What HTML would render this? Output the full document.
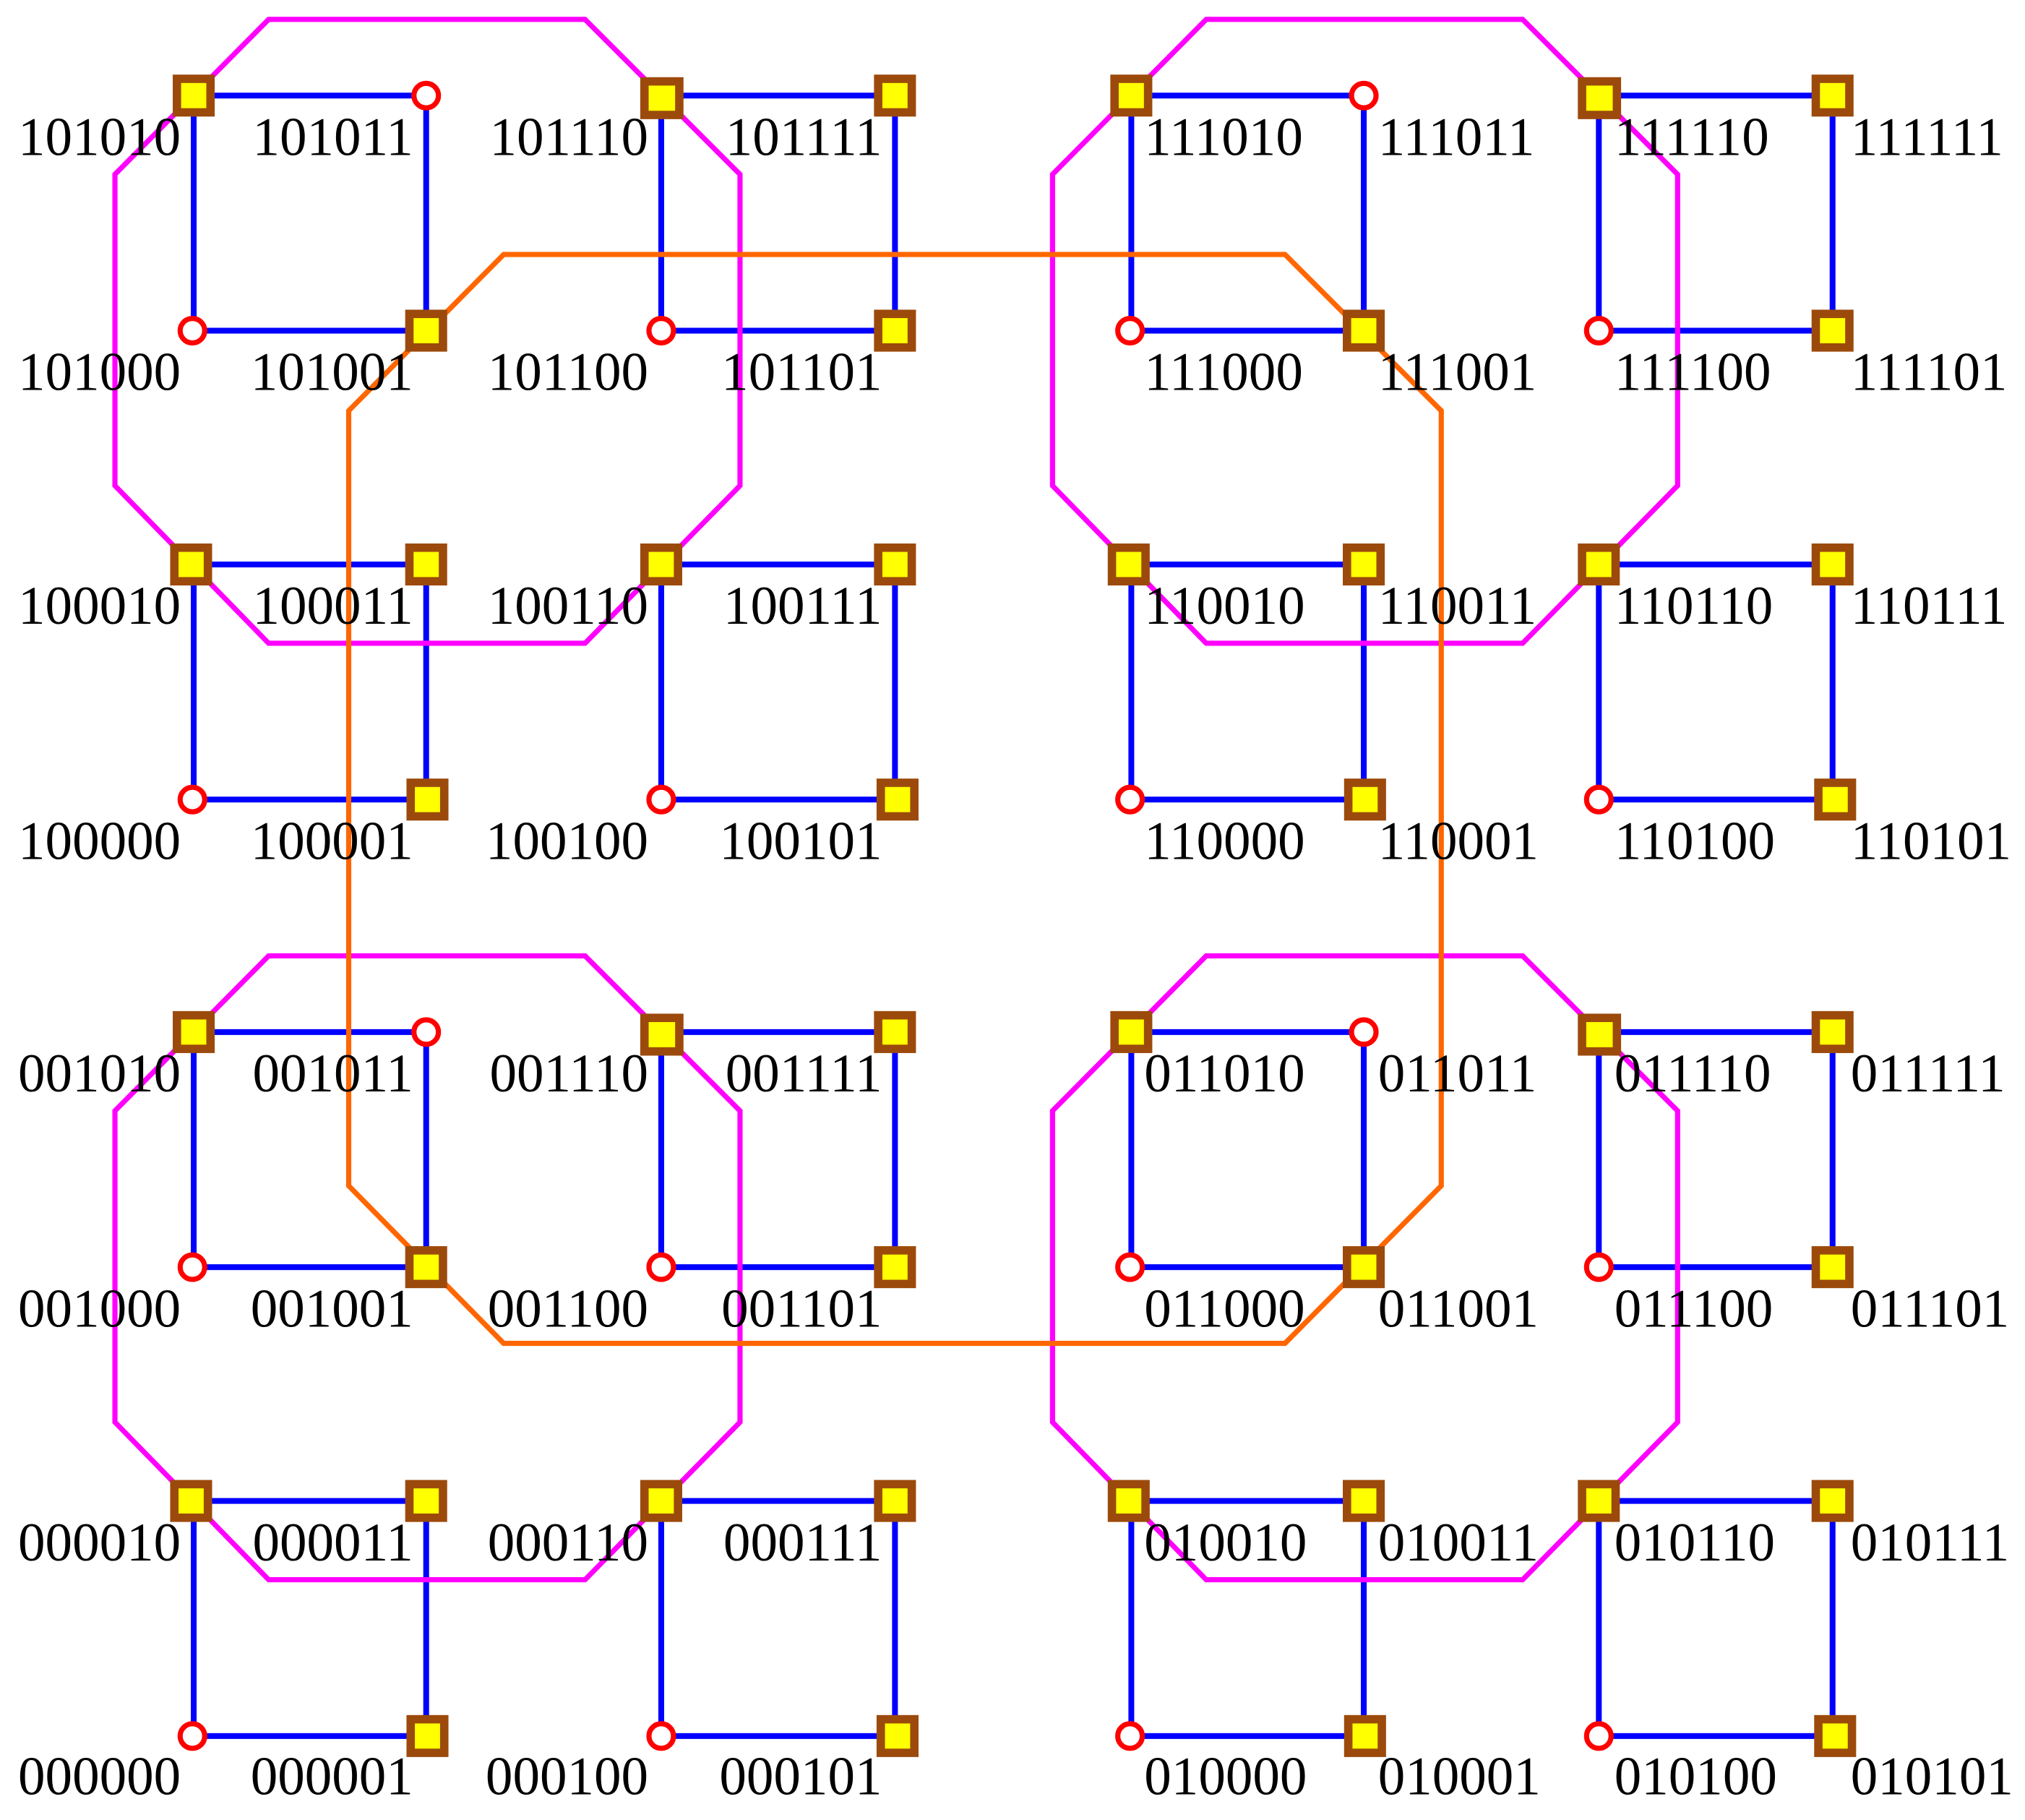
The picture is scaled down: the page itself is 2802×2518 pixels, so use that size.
<!DOCTYPE html>
<html><head><meta charset="utf-8"><style>html,body{margin:0;padding:0;background:#fff}svg{display:block}</style></head>
<body>
<svg width="2802" height="2518" viewBox="0 0 1568 1409" preserveAspectRatio="none" xmlns="http://www.w3.org/2000/svg">
<defs>
<g id="ql">
<g fill="none" stroke="#0000ff" stroke-width="4.5">
<rect x="150" y="74" width="180" height="182"/>
<rect x="512" y="74" width="181" height="182"/>
<rect x="150" y="437" width="180" height="182"/>
<rect x="512" y="437" width="181" height="182"/>
</g>
<polygon points="208,15 453,15 573,135 573,376 453,498 208,498 89,376 89,135" fill="none" stroke="#ff00ff" stroke-width="4"/>
</g>
<g id="qn">
<g fill="#ffff00" stroke="#9c4a0c" stroke-width="6.5">
<rect x="137" y="61" width="26" height="26"/>
<rect x="499" y="63" width="27" height="26"/>
<rect x="680" y="61" width="26" height="26"/>
<rect x="317" y="243" width="26" height="26"/>
<rect x="680" y="243" width="26" height="26"/>
<rect x="135" y="424" width="26" height="26"/>
<rect x="317" y="424" width="26" height="26"/>
<rect x="499" y="424" width="26" height="26"/>
<rect x="680" y="424" width="26" height="26"/>
<rect x="318" y="606" width="26" height="26"/>
<rect x="682" y="606" width="26" height="26"/>
</g>
<g fill="#fff" stroke="#ff0000" stroke-width="4">
<circle cx="330" cy="74" r="9.5"/>
<circle cx="149" cy="256" r="9.5"/>
<circle cx="512" cy="256" r="9.5"/>
<circle cx="149" cy="619" r="9.5"/>
<circle cx="512" cy="619" r="9.5"/>
</g>
</g>
</defs>
<use href="#ql"/>
<use href="#ql" transform="translate(726,0)"/>
<use href="#ql" transform="translate(0,725)"/>
<use href="#ql" transform="translate(726,725)"/>
<polygon points="390,197 995,197 1116,318 1116,918 995,1040 390,1040 270,918 270,318" fill="none" stroke="#ff6600" stroke-width="4"/>
<use href="#qn"/>
<use href="#qn" transform="translate(726,0)"/>
<use href="#qn" transform="translate(0,725)"/>
<use href="#qn" transform="translate(726,725)"/>
<g font-family="Liberation Serif, serif" font-size="42" fill="#000">
<g text-anchor="end">
<text x="140" y="120">101010</text><text x="320" y="120">101011</text><text x="502" y="120">101110</text><text x="683" y="120">101111</text>
<text x="140" y="302">101000</text><text x="320" y="302">101001</text><text x="502" y="302">101100</text><text x="683" y="302">101101</text>
<text x="140" y="483">100010</text><text x="320" y="483">100011</text><text x="502" y="483">100110</text><text x="683" y="483">100111</text>
<text x="140" y="665">100000</text><text x="320" y="665">100001</text><text x="502" y="665">100100</text><text x="683" y="665">100101</text>
<text x="140" y="845">001010</text><text x="320" y="845">001011</text><text x="502" y="845">001110</text><text x="683" y="845">001111</text>
<text x="140" y="1027">001000</text><text x="320" y="1027">001001</text><text x="502" y="1027">001100</text><text x="683" y="1027">001101</text>
<text x="140" y="1208">000010</text><text x="320" y="1208">000011</text><text x="502" y="1208">000110</text><text x="683" y="1208">000111</text>
<text x="140" y="1389">000000</text><text x="320" y="1389">000001</text><text x="502" y="1389">000100</text><text x="683" y="1389">000101</text>
</g>
<g text-anchor="start">
<text x="886" y="120">111010</text><text x="1067" y="120">111011</text><text x="1250" y="120">111110</text><text x="1433" y="120">111111</text>
<text x="886" y="302">111000</text><text x="1067" y="302">111001</text><text x="1250" y="302">111100</text><text x="1433" y="302">111101</text>
<text x="886" y="483">110010</text><text x="1067" y="483">110011</text><text x="1250" y="483">110110</text><text x="1433" y="483">110111</text>
<text x="886" y="665">110000</text><text x="1067" y="665">110001</text><text x="1250" y="665">110100</text><text x="1433" y="665">110101</text>
<text x="886" y="845">011010</text><text x="1067" y="845">011011</text><text x="1250" y="845">011110</text><text x="1433" y="845">011111</text>
<text x="886" y="1027">011000</text><text x="1067" y="1027">011001</text><text x="1250" y="1027">011100</text><text x="1433" y="1027">011101</text>
<text x="886" y="1208">010010</text><text x="1067" y="1208">010011</text><text x="1250" y="1208">010110</text><text x="1433" y="1208">010111</text>
<text x="886" y="1389">010000</text><text x="1067" y="1389">010001</text><text x="1250" y="1389">010100</text><text x="1433" y="1389">010101</text>
</g>
</g>
</svg>
</body></html>
